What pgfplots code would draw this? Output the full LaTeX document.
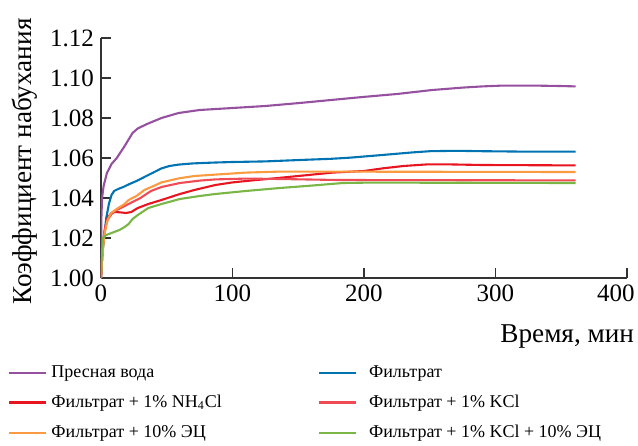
\documentclass[border=0pt]{standalone}
\usepackage{fontspec}
\setmainfont{LiberationSerif}[Extension=.ttf, UprightFont=*-Regular, BoldFont=*-Bold, ItalicFont=*-Italic, BoldItalicFont=*-BoldItalic]
\usepackage{pgfplots}
\pgfplotsset{compat=1.18}

\definecolor{cPurple}{RGB}{150,80,160}
\definecolor{cBlue}{RGB}{0,115,178}
\definecolor{cRed}{RGB}{232,20,32}
\definecolor{cRedL}{RGB}{240,75,85}
\definecolor{cOrange}{RGB}{250,155,65}
\definecolor{cGreen}{RGB}{122,182,70}

\begin{document}
\begin{tikzpicture}
\begin{axis}[
  scale only axis, width=263pt, height=120pt,
  xmin=0, xmax=400, ymin=1.00, ymax=1.12,
  axis x line*=bottom, axis y line*=left,
  axis line style={-, black!80, line width=0.6pt},
  xtick={0,100,...,400}, ytick={1.00,1.02,...,1.121},
  xticklabels={0,100,200,300,{\hspace*{-11pt}400}},
  tick align=inside, major tick length=5pt,
  tick style={black!80, line width=0.6pt},
  /pgf/number format/assume math mode=true,
  yticklabel style={/pgf/number format/.cd, fixed, fixed zerofill, precision=2},
  tick label style={font=\fontsize{12.5}{14}\selectfont},
  label style={font=\fontsize{13.6}{15}\selectfont},
  xlabel={Время, мин},
  xlabel style={at={(axis description cs:1,0)}, anchor=north east, yshift=-20pt, xshift=7pt},
  ylabel={Коэффициент набухания},
  ylabel style={at={(axis description cs:-0.146,0.485)}, anchor=center},
  legend columns=2,
  legend cell align=left,
  legend image code/.code={\draw[#1] (0pt,0pt) -- (18.5pt,0pt);},
  legend style={draw=none, font=\fontsize{9}{11}\selectfont,
    at={(axis description cs:0,0)}, anchor=north west,
    xshift=-49.5pt, yshift=-39.5pt,
    /tikz/column 2/.style={column sep=46pt},
    /tikz/column 3/.style={column sep=4pt},
    row sep=3.3pt},
  every axis plot/.append style={line width=1.05pt, line join=round},
]
\addplot[cPurple] coordinates {(0,1.000)(0.3,1.030)(0.8,1.040)(2,1.046)(4.5,1.0525)(8,1.057)(12,1.060)(18,1.066)(24,1.0725)(28,1.0748)(35,1.077)(46,1.080)(59,1.0825)(75,1.084)(100,1.085)(125,1.086)(151,1.0875)(175,1.089)(199,1.0905)(225,1.092)(252,1.094)(275,1.0952)(290,1.0958)(305,1.0962)(330,1.0962)(349,1.096)(361,1.0958)};
\addlegendentry{Пресная вода}
\addplot[cBlue] coordinates {(0,1.000)(1,1.012)(2.3,1.020)(4,1.030)(6,1.037)(8,1.0415)(10,1.0435)(13,1.0445)(17,1.0455)(21,1.0468)(27,1.0485)(33,1.0505)(40,1.0528)(46,1.0548)(52,1.056)(59,1.0567)(70,1.0573)(85,1.0577)(100,1.058)(125,1.0583)(151,1.059)(175,1.0596)(190,1.0602)(212,1.0614)(237,1.0628)(250,1.0634)(270,1.0636)(290,1.0634)(320,1.0632)(361,1.0632)};
\addlegendentry{Фильтрат}
\addplot[cRed] coordinates {(0,1.000)(1,1.012)(2,1.020)(3.5,1.026)(5.3,1.0305)(8,1.0325)(10.6,1.033)(15,1.0328)(19,1.0325)(23,1.033)(28,1.035)(36,1.037)(46,1.039)(60,1.042)(71,1.044)(87,1.0465)(100,1.0478)(115,1.0488)(130,1.0497)(150,1.051)(176,1.0527)(200,1.0535)(214,1.0548)(230,1.0560)(248,1.0568)(265,1.0568)(290,1.0565)(361,1.0563)};
\addlegendentry{Фильтрат + 1\% NH\textsubscript{4}Cl}
\addplot[cRedL] coordinates {(0,1.000)(1,1.012)(2,1.020)(3,1.025)(5,1.029)(8,1.032)(12,1.034)(18,1.036)(24,1.038)(30,1.040)(38,1.0435)(46,1.0455)(60,1.0475)(75,1.0487)(87,1.0493)(110,1.0497)(136,1.0495)(180,1.0490)(361,1.0488)};
\addlegendentry{Фильтрат + 1\% KCl}
\addplot[cOrange] coordinates {(0,1.000)(1,1.010)(2,1.018)(3,1.023)(5,1.029)(7.6,1.0325)(13,1.035)(18,1.037)(21,1.039)(27,1.041)(33,1.044)(40,1.046)(46,1.0478)(59,1.0498)(71,1.051)(87,1.0517)(110,1.0527)(136,1.0532)(160,1.0532)(361,1.053)};
\addlegendentry{Фильтрат + 10\% ЭЦ}
\addplot[cGreen] coordinates {(0,1.000)(0.5,1.010)(1.5,1.020)(4,1.0215)(8,1.0225)(14,1.024)(18,1.0255)(21,1.027)(24,1.0295)(28,1.0315)(36,1.035)(46,1.037)(60,1.0395)(75,1.041)(87,1.042)(110,1.0435)(136,1.045)(160,1.0462)(184,1.0475)(204,1.0477)(361,1.0475)};
\addlegendentry{Фильтрат + 1\% KCl + 10\% ЭЦ}
\end{axis}
\pgfresetboundingbox
\useasboundingbox (-50.5pt,-83.5pt) rectangle (268.5pt,139pt);
\end{tikzpicture}
\end{document}
